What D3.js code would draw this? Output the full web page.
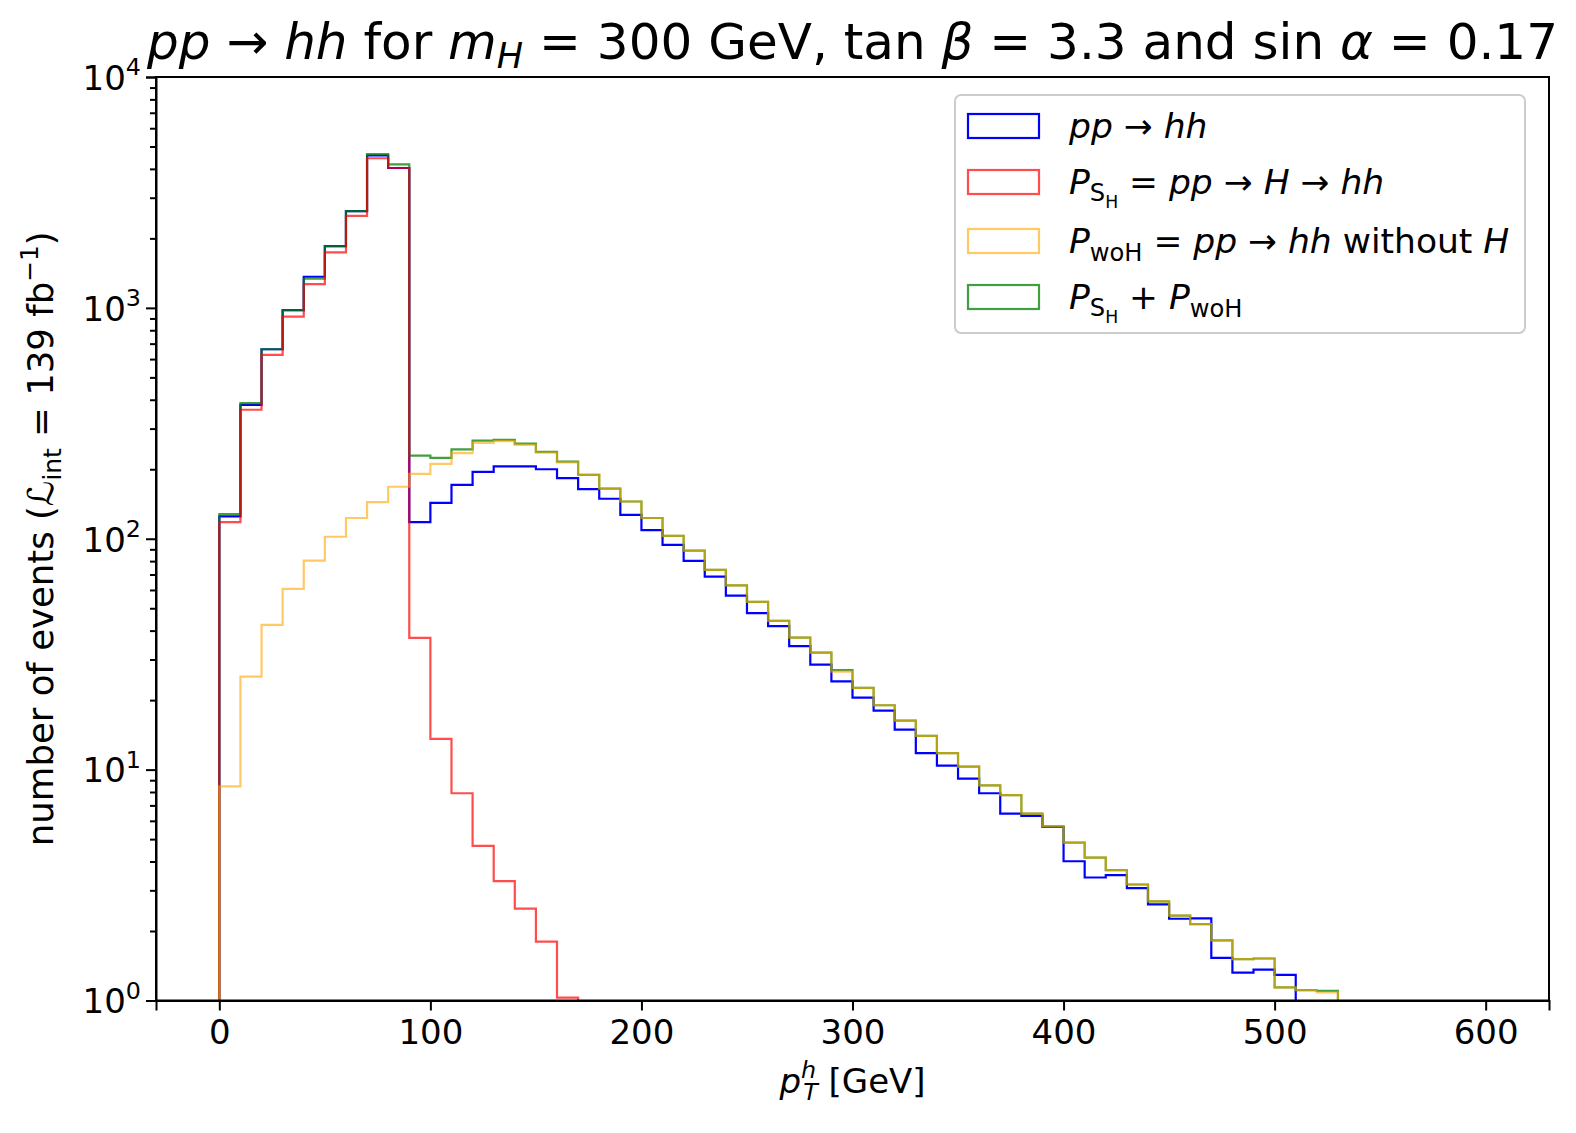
<!DOCTYPE html>
<html>
<head>
<meta charset="utf-8">
<script src="https://cdn.jsdelivr.net/npm/d3@7"></script>
<style>
  html, body { margin: 0; padding: 0; background: #fff; }
  svg text { font-family: "DejaVu Sans", sans-serif; fill: #000; }
</style>
</head>
<body>
<svg id="chart" width="1576" height="1133"></svg>
<script>
// ---------------- data ----------------
const binLow = [0,10,20,30,40,50,60,70,80,90,100,110,120,130,140,150,160,170,180,190,
  200,210,220,230,240,250,260,270,280,290,300,310,320,330,340,350,360,370,380,390,
  400,410,420,430,440,450,460,470,480,490,500,510,520];
const binWidth = 10;

const ppHH = [125,380,662,977,1364,1853,2624,4571,4036,
  118,143,171,195,206,206,200,183,164,149,127,109,94.0,80.2,68.5,56.7,47.6,41.8,34.3,28.5,24.1,
  20.5,18.0,14.9,11.8,10.4,9.14,7.90,6.45,6.30,5.65,4.01,3.41,3.49,3.07,2.61,2.26,2.27,1.53,1.32,1.36,
  1.29,0,0];

const pSH = [118,362,626,916,1268,1738,2505,4448,4036,
  37.2,13.6,7.90,4.67,3.29,2.50,1.80,1.03,0,0,0,0,0,0,0,0,0,0,0,0,0,
  0,0,0,0,0,0,0,0,0,0,0,0,0,0,0,0,0,0,0,0,0,0,0];

const pWoH = [8.47,25.3,42.4,60.6,80.4,102,123,144,168,
  191,211,235,260,265,255,236,214,189,165,145,123,103,88.9,73.3,62.8,53.3,44.1,37.3,32.1,26.6,
  22.6,19.0,16.3,14.0,11.8,10.3,8.55,7.76,6.45,5.67,4.83,4.16,3.67,3.18,2.69,2.33,2.14,1.82,1.51,1.52,
  1.14,1.11,1.085];

const pSum = [128,387,662,977,1337,1853,2624,4633,4180,
  229,224,244,266,268,258,238,216,189,165,145,123,103,88.9,73.3,62.8,53.3,44.1,37.3,32.1,27.0,
  22.6,19.0,16.3,14.0,11.8,10.3,8.55,7.76,6.45,5.67,4.83,4.16,3.67,3.18,2.69,2.33,2.14,1.82,1.51,1.52,
  1.14,1.11,1.10];

const xTicks = [0,100,200,300,400,500,600];
const yMajor = [1,10,100,1000,10000];
const yExp = ["0","1","2","3","4"];

// ---------------- layout ----------------
const svg = d3.select("#chart");
const L = 156, R = 1549, T = 77, B = 1000.5;
const FS = 34;
const x = d3.scaleLinear().domain([-30, 630]).range([L, R]);
const y = d3.scaleLog().domain([1, 10000]).range([B, T]);

svg.append("defs").append("clipPath").attr("id","clip")
  .append("rect").attr("x", L).attr("y", T).attr("width", R-L).attr("height", B-T);

// rich text helper (s = vertical shift in em of base size, sc = scale)
function rich(textSel, parts, size, base) {
  let cur = 0;
  const b = base || 0;
  parts.forEach((p, i) => {
    const sc = p.sc || 1;
    const shift = ((p.s || 0) + b) * size;
    const ts = textSel.append("tspan").text(p.t)
      .attr("font-size", size*sc)
      .attr("dy", shift - cur);
    if (p.it) ts.attr("font-style", "italic");
    if (p.dx) ts.attr("dx", p.dx*size);
    cur = shift;
  });
}

// ---------------- histograms ----------------
const BASE = 0.01;
function stepPts(vals) {
  const pts = [[binLow[0], BASE]];
  vals.forEach((v, i) => {
    const vv = v > 0 ? v : BASE;
    pts.push([binLow[i], vv]);
    pts.push([binLow[i] + binWidth, vv]);
  });
  pts.push([binLow[binLow.length-1] + binWidth, BASE]);
  return pts;
}
const line = d3.line().x(d => x(d[0])).y(d => Math.min(y(Math.max(d[1], BASE)), B + 50));

const series = [
  {vals: ppHH, color: "#0000ff", op: 1},
  {vals: pSum, color: "#008000", op: 0.75},
  {vals: pSH,  color: "#ff0000", op: 0.7},
  {vals: pWoH, color: "#ffa500", op: 0.6}
];
const gH = svg.append("g").attr("clip-path", "url(#clip)");
series.forEach(s => {
  gH.append("path").attr("d", line(stepPts(s.vals)))
    .attr("fill", "none").attr("stroke", s.color)
    .attr("stroke-opacity", s.op).attr("stroke-width", 2.2)
    .attr("stroke-linejoin", "miter");
});

// ---------------- axes ----------------
const xAxis = svg.append("g").attr("transform", `translate(0,${B})`)
  .call(d3.axisBottom(x).tickValues(xTicks).tickSize(10).tickPadding(9).tickFormat(d3.format("d")));
xAxis.selectAll("text").attr("font-size", FS);

const yAxis = svg.append("g").attr("transform", `translate(${L},0)`)
  .call(d3.axisLeft(y).tickValues(yMajor).tickSize(10).tickPadding(5).tickFormat(() => ""));
yAxis.selectAll(".tick text").each(function(d, i) {
  const t = d3.select(this);
  t.text(null).attr("dy", null);
  rich(t, [{t: "10"}, {t: yExp[i], sc: 0.7, s: -0.42}], FS, 0.36);
});

const minors = [];
for (let e = 0; e < 4; e++) for (let m = 2; m <= 9; m++) minors.push(m * Math.pow(10, e));
svg.append("g").attr("transform", `translate(${L},0)`)
  .call(d3.axisLeft(y).tickValues(minors).tickSize(6).tickFormat(() => ""))
  .call(g => g.select(".domain").remove());

svg.selectAll(".tick line").attr("stroke", "#000").attr("stroke-width", 2);
svg.selectAll(".domain").attr("stroke", "#000").attr("stroke-width", 2);
// frame
svg.append("rect").attr("x", L).attr("y", T).attr("width", R-L).attr("height", B-T)
  .attr("fill", "none").attr("stroke", "#000").attr("stroke-width", 2);

// ---------------- labels ----------------
const xl = svg.append("text").attr("x", (L+R)/2).attr("y", 1093).attr("text-anchor", "middle");
rich(xl, [{t: "p", it: true}, {t: "h", it: true, sc: 0.7, s: -0.45},
          {t: "T", it: true, sc: 0.7, s: 0.2, dx: -0.38},
          {t: " [GeV]", s: 0}], FS);

const yl = svg.append("text").attr("transform", `translate(53,${(T+B)/2}) rotate(-90)`)
  .attr("text-anchor", "middle");
rich(yl, [{t: "number of events ("}, {t: "ℒ", it: true}, {t: "int", sc: 0.7, s: 0.22},
          {t: " = 139 fb", s: 0}, {t: "−1", sc: 0.7, s: -0.42}, {t: ")", s: 0}], 35.5);

const title = svg.append("text").attr("x", (L+R)/2).attr("y", 59).attr("text-anchor", "middle");
rich(title, [{t: "pp", it: true}, {t: " → "}, {t: "hh", it: true}, {t: " for "},
  {t: "m", it: true}, {t: "H", it: true, sc: 0.7, s: 0.18}, {t: " = 300 GeV, tan ", s: 0},
  {t: "β", it: true}, {t: " = 3.3 and sin "}, {t: "α", it: true}, {t: " = 0.17"}], 50);

// ---------------- legend ----------------
const leg = svg.append("g");
leg.append("rect").attr("x", 955).attr("y", 95).attr("width", 570).attr("height", 238)
  .attr("rx", 6).attr("fill", "#fff").attr("fill-opacity", 0.8)
  .attr("stroke", "#cccccc").attr("stroke-width", 2);

const legItems = [
  {color: "#0000ff", op: 1, parts: [{t: "pp", it: true}, {t: " → "}, {t: "hh", it: true}]},
  {color: "#ff0000", op: 0.7, parts: [{t: "P", it: true}, {t: "S", sc: 0.7, s: 0.2},
      {t: "H", sc: 0.5, s: 0.4}, {t: " = ", s: 0}, {t: "pp", it: true}, {t: " → "},
      {t: "H", it: true}, {t: " → "}, {t: "hh", it: true}]},
  {color: "#ffa500", op: 0.6, parts: [{t: "P", it: true}, {t: "woH", sc: 0.7, s: 0.22},
      {t: " = ", s: 0}, {t: "pp", it: true}, {t: " → "}, {t: "hh", it: true},
      {t: " without "}, {t: "H", it: true}]},
  {color: "#008000", op: 0.75, parts: [{t: "P", it: true}, {t: "S", sc: 0.7, s: 0.2},
      {t: "H", sc: 0.5, s: 0.4}, {t: " + ", s: 0}, {t: "P", it: true},
      {t: "woH", sc: 0.7, s: 0.22}]}
];
const rowY = [126, 182, 241, 297];
legItems.forEach((it, i) => {
  leg.append("rect").attr("x", 968).attr("y", rowY[i] - 12).attr("width", 71).attr("height", 24)
    .attr("fill", "none").attr("stroke", it.color).attr("stroke-opacity", it.op).attr("stroke-width", 2.2);
  const t = leg.append("text").attr("x", 1069).attr("y", rowY[i] + 12);
  rich(t, it.parts, 34.5);
});
</script>
</body>
</html>
